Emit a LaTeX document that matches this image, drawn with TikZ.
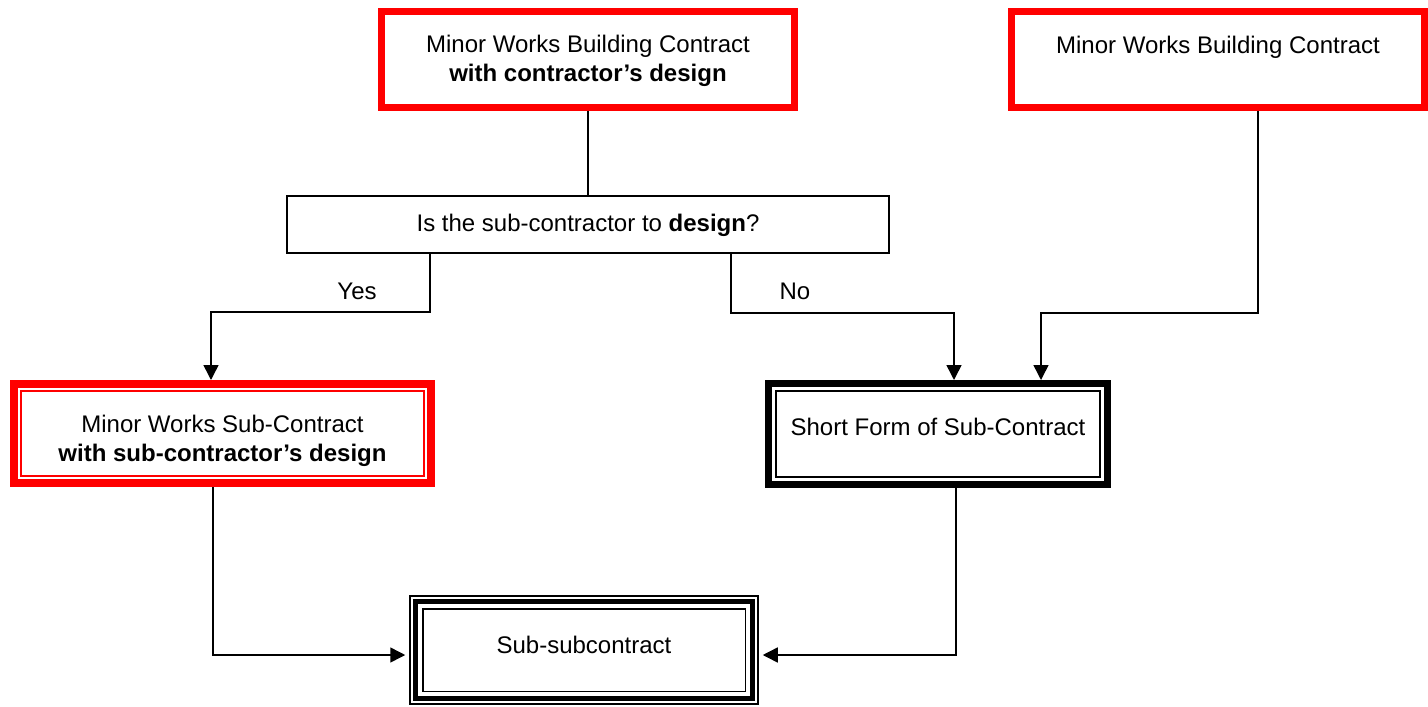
\documentclass[tikz,border=0pt]{standalone}
\usepackage{fontspec}
\setmainfont{Liberation Sans}
\usetikzlibrary{arrows.meta}
\tikzset{
  box/.style={draw, inner sep=0pt, minimum width=#1},
  redbox/.style={draw=red, line width=7pt, inner sep=0pt, minimum width=412.5pt, minimum height=95.5pt},
  txt/.style={inner sep=0pt, align=center, font=\fontsize{24pt}{29pt}\selectfont},
  conn/.style={line width=1.5pt, black},
  arr/.style={conn, -{Triangle[length=15pt,width=15pt]}},
}
\begin{document}
\begin{tikzpicture}[x=1pt,y=-1pt]
\useasboundingbox (0,0) rectangle (1428,707);
% top boxes
\node[redbox] (b1) at (587.75,59.25) {};
\node[redbox] (b2) at (1217.75,59.25) {};
\node[txt] (t1) at (588,61) {Minor Works Building Contract\\\textbf{with contractor's design}};
\node[txt] (t2) at (1218,47) {Minor Works Building Contract};
% decision
\node[draw, line width=1.5pt, inner sep=0pt, minimum width=602pt, minimum height=57pt] (d) at (588,224.5) {};
\node[txt] (td) at (588,225) {Is the sub-contractor to \textbf{design}?};
% sub-contract with design
\node[draw=red, line width=8pt, inner sep=0pt, minimum width=417pt, minimum height=99pt] (b3) at (222.5,433.5) {};
\draw[red, line width=1.5pt] ([shift={(11pt,-11pt)}]b3.north west) rectangle ([shift={(-11pt,11pt)}]b3.south east);
\node[txt] (t3) at (222.5,441) {Minor Works Sub-Contract\\\textbf{with sub-contractor's design}};
% short form
\node[draw, line width=7pt, inner sep=0pt, minimum width=338.5pt, minimum height=100.5pt] (b4) at (937.75,433.75) {};
\draw[line width=2pt] ([shift={(10.5pt,-10.5pt)}]b4.north west) rectangle ([shift={(-10.5pt,10.5pt)}]b4.south east);
\node[txt] (t4) at (938,427) {Short Form of Sub-Contract};
% sub-subcontract
\node[draw, line width=1.5pt, inner sep=0pt, minimum width=348pt, minimum height=108pt] (b5) at (584,650) {};
\draw[line width=5pt] ([shift={(6pt,-6pt)}]b5.north west) rectangle ([shift={(-6pt,6pt)}]b5.south east);
\draw[line width=1.5pt] ([shift={(13.5pt,-13.5pt)}]b5.north west) rectangle ([shift={(-13.5pt,13.5pt)}]b5.south east);
\node[txt] (t5) at (584,645) {Sub-subcontract};
% labels
\node[txt] (yes) at (357,291) {Yes};
\node[txt] (no) at (795,291) {No};
% connectors
\coordinate (j1) at (430,312);
\coordinate (j1b) at (211,312);
\coordinate (j2) at (731,313);
\coordinate (j2b) at (954,313);
\coordinate (j3) at (1258,313);
\coordinate (j3b) at (1041,313);
\coordinate (j4) at (213,655);
\coordinate (j5) at (956,655);
\draw[conn] (b1.south) -- (b1.south |- d.north);
\draw[arr] (j1 |- d.south) -- (j1) -- (j1b) -- (j1b |- b3.north);
\draw[arr] (j2 |- d.south) -- (j2) -- (j2b) -- (j2b |- b4.north);
\draw[arr] (j3 |- b2.south) -- (j3) -- (j3b) -- (j3b |- b4.north);
\draw[arr, shorten >=4pt] (j4 |- b3.south) -- (j4) -- (j4 -| b5.west);
\draw[arr, shorten >=4pt] (j5 |- b4.south) -- (j5) -- (j5 -| b5.east);
\end{tikzpicture}
\end{document}
